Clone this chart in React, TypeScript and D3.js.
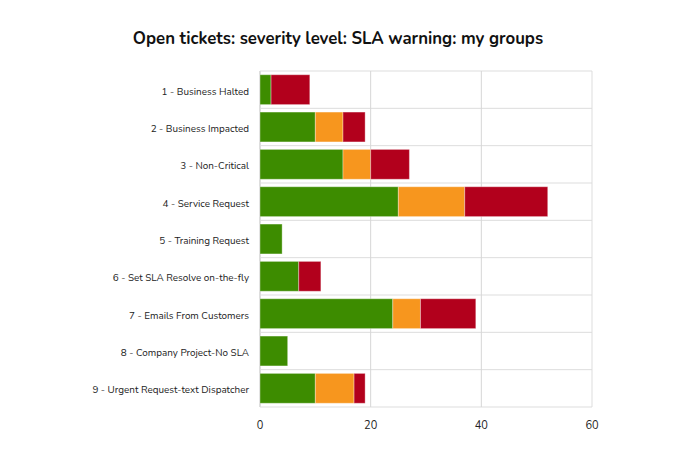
import React from "react";
import * as d3 from "d3";

const categories = [
  "1 - Business Halted",
  "2 - Business Impacted",
  "3 - Non-Critical",
  "4 - Service Request",
  "5 - Training Request",
  "6 - Set SLA Resolve on-the-fly",
  "7 - Emails From Customers",
  "8 - Company Project-No SLA",
  "9 - Urgent Request-text Dispatcher",
];
const okValues = [2, 10, 15, 25, 4, 7, 24, 5, 10];
const warningValues = [0, 5, 5, 12, 0, 0, 5, 0, 7];
const breachedValues = [7, 4, 7, 15, 0, 4, 10, 0, 2];
const seriesKeys = ["ok", "warning", "breached"];
const seriesColors = ["#3d8c00", "#f7961e", "#b2001c"];
const xTicks = [0, 20, 40, 60];

const W = 686;
const H = 454;
const M = { left: 260, right: 94, top: 71, bottom: 47 };

export default function App() {
  const rows = categories.map((c, i) => ({
    cat: c,
    ok: okValues[i],
    warning: warningValues[i],
    breached: breachedValues[i],
  }));
  const stack = d3.stack<any>().keys(seriesKeys)(rows);
  const x = d3.scaleLinear().domain([0, 60]).range([M.left, W - M.right]);
  const y = d3
    .scaleBand()
    .domain(categories)
    .range([M.top, H - M.bottom])
    .paddingInner(0.2)
    .paddingOuter(0.1);
  const rowStep = (H - M.bottom - M.top) / categories.length;
  const font = "Nunito, Lato, 'Open Sans', sans-serif";

  return (
    <svg
      width={W}
      height={H}
      style={{ position: "absolute", left: 0, top: 0, background: "#fff" }}
    >
      <text
        x={338}
        y={44}
        textAnchor="middle"
        fontFamily={font}
        fontWeight={700}
        fontSize={16.8}
        fill="#111"
      >
        Open tickets: severity level: SLA warning: my groups
      </text>
      {d3.range(categories.length + 1).map((i) => (
        <line
          key={"h" + i}
          x1={M.left}
          x2={W - M.right}
          y1={M.top + i * rowStep}
          y2={M.top + i * rowStep}
          stroke="#dddddd"
          strokeWidth={1}
        />
      ))}
      {xTicks.map((t) => (
        <line
          key={"v" + t}
          x1={x(t)}
          x2={x(t)}
          y1={M.top}
          y2={H - M.bottom}
          stroke={t === 0 || t === 60 ? "#dddddd" : "#d6d6d6"}
          strokeWidth={t === 0 ? 2 : 1}
        />
      ))}
      {stack.map((s, si) =>
        s.map((d, i) =>
          d[1] - d[0] > 0 ? (
            <rect
              key={si + "-" + i}
              x={x(d[0])}
              y={y(categories[i])!}
              width={x(d[1]) - x(d[0])}
              height={y.bandwidth()}
              fill={seriesColors[si]}
              stroke="rgba(255,255,255,0.35)"
              strokeWidth={1}
            />
          ) : null
        )
      )}
      {categories.map((c) => (
        <text
          key={c}
          x={249}
          y={y(c)! + y.bandwidth() / 2 + 1.5}
          dy="0.35em"
          textAnchor="end"
          fontFamily={font}
          fontSize={9.9}
          fill="#222"
        >
          {c}
        </text>
      ))}
      {xTicks.map((t) => (
        <text
          key={"t" + t}
          x={x(t)}
          y={425}
          dy="0.35em"
          textAnchor="middle"
          fontFamily={font}
          fontSize={11}
          fill="#222"
        >
          {t}
        </text>
      ))}
    </svg>
  );
}
